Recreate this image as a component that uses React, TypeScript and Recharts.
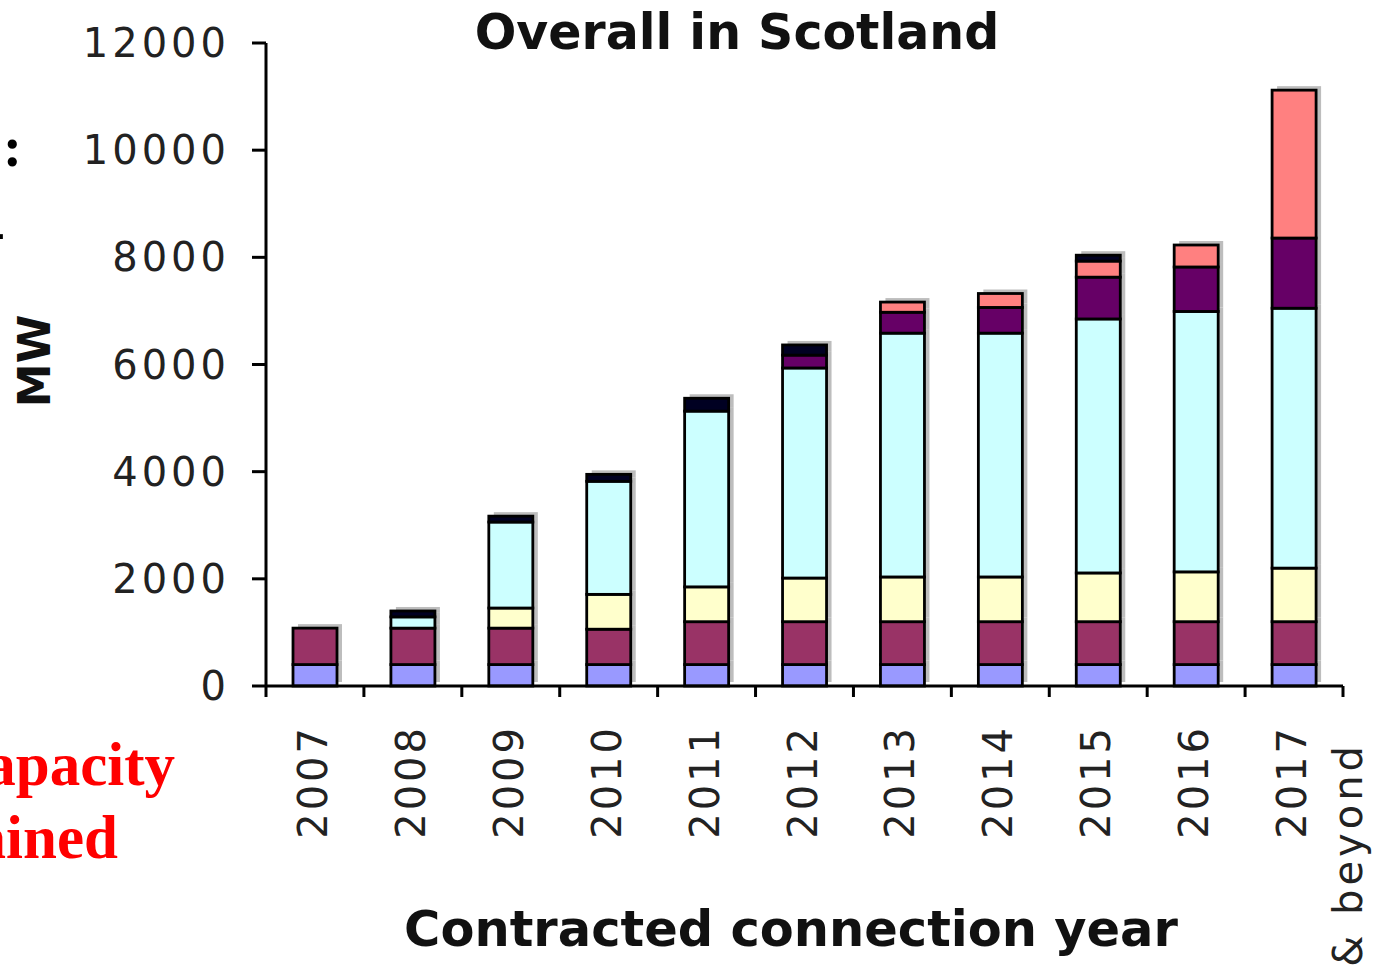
import React from 'react';
import { BarChart, Bar, XAxis, YAxis } from 'recharts';

const categories = ['2007', '2008', '2009', '2010', '2011', '2012', '2013', '2014', '2015', '2016', '2017 & beyond'];
const blueValues = [400, 400, 400, 400, 400, 400, 400, 400, 400, 400, 400];
const maroonValues = [680, 680, 680, 660, 800, 800, 800, 800, 800, 800, 800];
const yellowValues = [0, 0, 375, 650, 650, 815, 835, 835, 910, 930, 1000];
const cyanValues = [0, 210, 1605, 2110, 3280, 3920, 4550, 4550, 4740, 4860, 4850];
const purpleValues = [0, 0, 0, 0, 0, 240, 390, 480, 780, 830, 1310];
const salmonValues = [0, 0, 0, 0, 0, 0, 190, 260, 300, 410, 2760];
const darkValues = [0, 110, 110, 130, 240, 190, 0, 0, 110, 0, 0];
const yTicks = [0, 2000, 4000, 6000, 8000, 10000, 12000];

const seriesDefs = [
  { key: 'blue', values: blueValues, color: '#9999FF' },
  { key: 'maroon', values: maroonValues, color: '#993366' },
  { key: 'yellow', values: yellowValues, color: '#FFFFCC' },
  { key: 'cyan', values: cyanValues, color: '#CCFFFF' },
  { key: 'purple', values: purpleValues, color: '#660066' },
  { key: 'salmon', values: salmonValues, color: '#FF8080' },
  { key: 'dark', values: darkValues, color: '#000022' },
];

const data = categories.map((c, i) => {
  const row: Record<string, any> = { year: c };
  seriesDefs.forEach((s) => { row[s.key] = s.values[i]; });
  return row;
});

const W = 1376;
const H = 967;
const MARGIN = { top: 43, right: 33, bottom: 81, left: 166 };
const Y_AXIS_W = 100;
const X_AXIS_H = 200;
const PLOT_LEFT = MARGIN.left + Y_AXIS_W;
const PLOT_RIGHT = W - MARGIN.right;
const PLOT_BOTTOM = H - MARGIN.bottom - X_AXIS_H;
const BAND = (PLOT_RIGHT - PLOT_LEFT) / categories.length;

const TICK_FONT = 'DejaVu Sans, Verdana, sans-serif';
const SERIF = 'Liberation Serif, Times New Roman, serif';

const ShadowBar = (props: any) => {
  const { x, y, width, height, fill } = props;
  if (!height || height <= 0) return null;
  return (
    <g>
      <rect x={x + 5} y={y - 4} width={width} height={height} fill="#bdbdbd" />
      <rect x={x} y={y} width={width} height={height} fill={fill} stroke="#000" strokeWidth={2.8} />
    </g>
  );
};

const YTick = (props: any) => {
  const { x, y, payload } = props;
  return (
    <text x={x} y={y} textAnchor="end" dominantBaseline="central" fontFamily={TICK_FONT} fontSize={40} letterSpacing={4} fill="#222">
      {payload.value}
    </text>
  );
};

const XTick = (props: any) => {
  const { x, payload, index } = props;
  const isLast = index === categories.length - 1;
  const label: string = payload.value;
  const parts = isLast ? ['2017', '& beyond'] : [label];
  return (
    <g>
      <line x1={x - BAND / 2} y1={PLOT_BOTTOM} x2={x - BAND / 2} y2={PLOT_BOTTOM + 11} stroke="#000" strokeWidth={3} />
      {isLast && (
        <line x1={x + BAND / 2} y1={PLOT_BOTTOM} x2={x + BAND / 2} y2={PLOT_BOTTOM + 11} stroke="#000" strokeWidth={3} />
      )}
      <text transform={`translate(${x - 2},${PLOT_BOTTOM + 39}) rotate(-90)`} textAnchor="end" dominantBaseline="central" fontFamily={TICK_FONT} fontSize={40} letterSpacing={3} fill="#222">
        {parts[0]}
      </text>
      {parts[1] && (
        <text transform={`translate(${x + 54},${PLOT_BOTTOM + 56}) rotate(-90)`} textAnchor="end" dominantBaseline="central" fontFamily={TICK_FONT} fontSize={40} letterSpacing={4} fill="#222">
          {parts[1]}
        </text>
      )}
    </g>
  );
};

export default function App() {
  return (
    <div style={{ position: 'absolute', left: 0, top: 0, width: W, height: H, overflow: 'hidden', background: '#fff' }}>
      <BarChart width={W} height={H} data={data} margin={MARGIN}>
        <XAxis
          dataKey="year"
          height={X_AXIS_H}
          interval={0}
          tickLine={false}
          axisLine={{ stroke: '#000', strokeWidth: 3 }}
          tick={<XTick />}
        />
        <YAxis
          width={Y_AXIS_W}
          domain={[0, 12000]}
          ticks={yTicks}
          interval={0}
          tickSize={14}
          tickMargin={22}
          tickLine={{ stroke: '#000', strokeWidth: 3 }}
          axisLine={{ stroke: '#000', strokeWidth: 3 }}
          tick={<YTick />}
        />
        {seriesDefs.map((s) => (
          <Bar key={s.key} dataKey={s.key} stackId="a" fill={s.color} barSize={44} shape={<ShadowBar />} isAnimationActive={false} />
        ))}
      </BarChart>
      <svg width={W} height={H} style={{ position: 'absolute', left: 0, top: 0, pointerEvents: 'none' }}>
        <text x={737} y={49} textAnchor="middle" fontFamily={TICK_FONT} fontWeight="bold" fontSize={49} fill="#111">
          Overall in Scotland
        </text>
        <text transform="translate(50,361) rotate(-90)" textAnchor="middle" fontFamily={TICK_FONT} fontWeight="bold" fontSize={44} fill="#111">
          MW
        </text>
        <text x={791} y={946} textAnchor="middle" fontFamily={TICK_FONT} fontWeight="bold" fontSize={49.5} fill="#111">
          Contracted connection year
        </text>
        <text x={175} y={785} textAnchor="end" fontFamily={SERIF} fontWeight="bold" fontSize={61} fill="#FF0000">
          Capacity
        </text>
        <text x={118} y={858} textAnchor="end" fontFamily={SERIF} fontWeight="bold" fontSize={61} fill="#FF0000">
          obtained
        </text>
        <text x={22} y={166} textAnchor="end" fontFamily={SERIF} fontWeight="bold" fontSize={57} fill="#000">
          :
        </text>
        <text x={5} y={250} textAnchor="end" fontFamily={SERIF} fontWeight="bold" fontSize={57} fill="#000">
          -
        </text>
      </svg>
    </div>
  );
}
